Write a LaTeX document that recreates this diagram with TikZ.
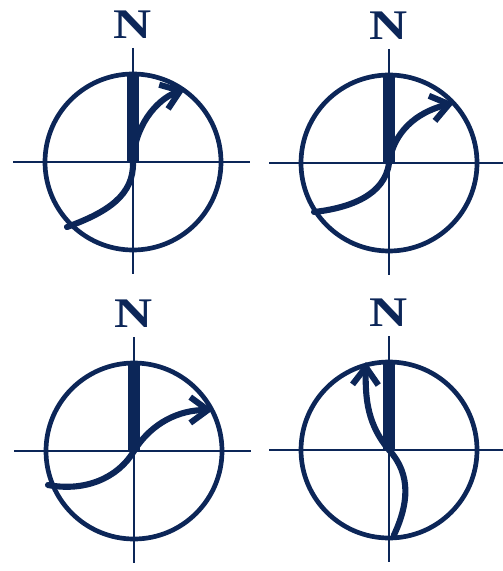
\documentclass[tikz,border=0pt]{standalone}
\usepackage{fontspec}
\setmainfont{Liberation Serif}
\usetikzlibrary{arrows.meta}
\definecolor{navy}{RGB}{12,38,88}
\newcommand{\compass}[3]{% x, y, name   (ring, cross, north bar and N)
  \coordinate (#3) at (#1,#2);
  \draw[cross] (#1-120,#2) -- (#1+117,#2);
  \draw[cross] (#1,#2-114) -- (#1,#2+112);
  \draw[ring] (#3) circle (88);
  \fill (#1-6,#2-88) rectangle (#1+6,#2);
  \node[font=\fontsize{36}{36}\selectfont\bfseries,xscale=1.25] (#3n) at (#1,#2-137) {N};}

\begin{document}
\begin{tikzpicture}[x=0.03cm,y=-0.03cm,navy,
    cross/.style={line width=2.4pt},
    ring/.style={line width=4pt},
    track/.style={line width=5.2pt,line cap=round,-{Straight Barb[length=15pt,width=22pt]}}]
  \useasboundingbox (0,0) rectangle (502,571);
  \compass{133}{162}{c1}
  \compass{389}{163}{c2}
  \compass{134}{451}{c3}
  \compass{389}{450}{c4}
  % deflected tracks
  \draw[track] (67,227) .. controls (108,212) and (134,195) .. (c1)
    .. controls (134,128) and (155,100) .. (185,89);
  \draw[track] (314,212) .. controls (350,208) and (385,195) .. (c2)
    .. controls (395,125) and (425,110) .. (454,103);
  \draw[track] (48,485) .. controls (85,492) and (118,478) .. (c3)
    .. controls (152,422) and (180,410) .. (213,410);
  \draw[track] (394,535) .. controls (408,505) and (412,475) .. (c4)
    .. controls (368,425) and (365,400) .. (366,362);
\end{tikzpicture}
\end{document}
